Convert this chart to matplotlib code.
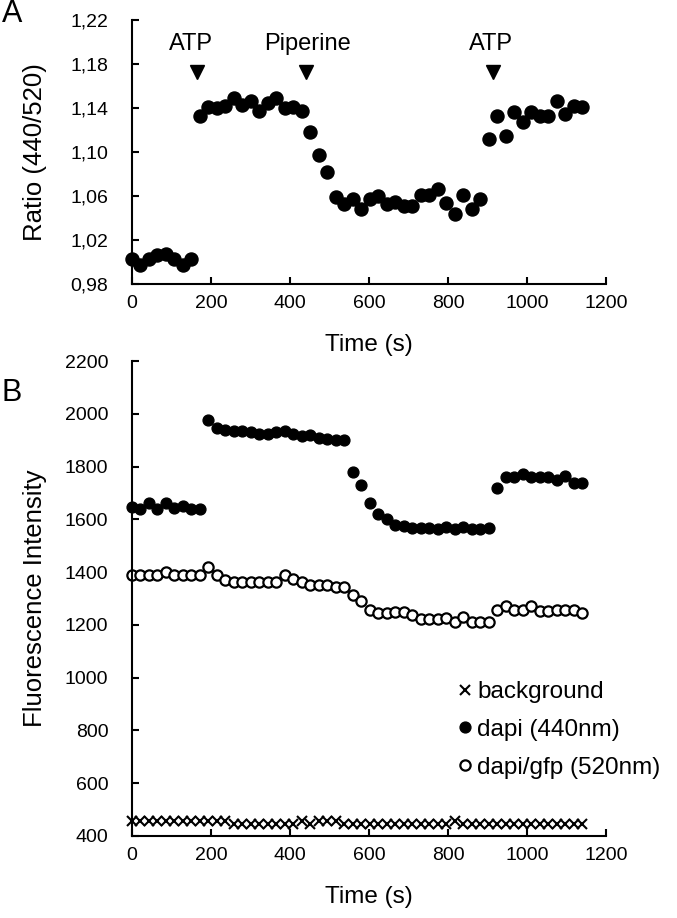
import numpy as np
import matplotlib.pyplot as plt

plt.rcParams['font.family'] = ['Liberation Sans', 'DejaVu Sans']

# time points (s), one frame about every 21.5 s
t = np.arange(54) * 21.5

# panel A: ratio 440/520
ratio = [1.003, 0.997, 1.003, 1.006, 1.007, 1.003, 0.997, 1.003,
         1.133, 1.141, 1.140, 1.142, 1.149, 1.143, 1.146, 1.137, 1.145,
         1.149, 1.140, 1.141, 1.137,
         1.118, 1.097, 1.082,
         1.059, 1.053, 1.057, 1.048, 1.057, 1.060, 1.053, 1.055, 1.051,
         1.051, 1.061, 1.061, 1.066, 1.054, 1.044, 1.061, 1.048, 1.057,
         1.112, 1.133, 1.115, 1.136, 1.127, 1.136, 1.133, 1.133, 1.146,
         1.135, 1.142, 1.141]

# panel B: fluorescence intensity
dapi = [1648, 1640, 1662, 1640, 1662, 1642, 1652, 1640, 1640,
        1975, 1945, 1938, 1935, 1935, 1930, 1925, 1925, 1930, 1935,
        1925, 1915, 1920, 1910, 1905, 1900, 1900,
        1781, 1729, 1662, 1621, 1600, 1579, 1575, 1569, 1569, 1569,
        1562, 1571, 1562, 1571, 1562, 1562, 1569,
        1719, 1762, 1762, 1771, 1759, 1759, 1759, 1750, 1766, 1737, 1737]

gfp = [1388, 1388, 1388, 1388, 1400, 1388, 1388, 1388, 1388,
       1419, 1388, 1371, 1362, 1362, 1362, 1362, 1362, 1362,
       1390, 1375, 1362, 1350, 1350, 1350,
       1344, 1344, 1312, 1291, 1256, 1246, 1246, 1250, 1250, 1237,
       1221, 1221, 1221, 1225, 1212, 1231, 1212, 1212, 1212,
       1256, 1271, 1256, 1256, 1271, 1254, 1254, 1256, 1256, 1256, 1246]

background = [455, 455, 455, 455, 455, 455, 455, 455, 455, 455, 455, 455,
              445, 445, 445, 445, 445, 445, 445, 445, 455, 445, 455, 455,
              455, 445, 445, 445, 445, 445, 445, 445, 445, 445, 445, 445,
              445, 445, 455, 445, 445, 445, 445, 445, 445, 445, 445, 445,
              445, 445, 445, 445, 445, 445]

# treatments: arrow time and label time
events = ['ATP', 'Piperine', 'ATP']
event_t = [165, 440, 915]
label_t = [150, 445, 908]

W, H = 677, 918
fig = plt.figure(figsize=(W / 100, H / 100), dpi=100)
axA = fig.add_axes([132 / W, 1 - 284 / H, 474 / W, 264 / H])
axB = fig.add_axes([132 / W, 1 - 836 / H, 474 / W, 475 / H])

for ax in (axA, axB):
    ax.spines['top'].set_visible(False)
    ax.spines['right'].set_visible(False)
    for s in ('left', 'bottom'):
        ax.spines[s].set_linewidth(1.5)
    ax.tick_params(direction='in', length=5, width=1.5, labelsize=14)
    ax.tick_params(axis='y', pad=17)
    ax.tick_params(axis='x', pad=8)
    ax.set_xlim(0, 1200)
    ax.set_xticks(range(0, 1201, 200))
    ax.set_xlabel('Time (s)', fontsize=17.5, labelpad=16)
    ax.yaxis.set_label_coords(-0.179, 0.5)

# A
axA.plot(t, ratio, 'o', color='black', ms=9.4, clip_on=False)
axA.set_ylim(0.98, 1.22)
yt = np.arange(0.98, 1.221, 0.04)
axA.set_yticks(yt)
axA.set_yticklabels([f'{v:.2f}'.replace('.', ',') for v in yt])
axA.set_ylabel('Ratio (440/520)', fontsize=18.5)
axA.plot(event_t, [1.173] * 3, 'v', color='black', ms=10, clip_on=False)
for name, x in zip(events, label_t):
    axA.text(x, 1.198, name, ha='center', va='center', fontsize=17)

# B
axB.plot(t, background, 'x', color='black', ms=6.5, mew=1.5, clip_on=False,
         label='background')
axB.plot(t, dapi, 'o', color='black', ms=7.8, clip_on=False,
         label='dapi (440nm)')
axB.plot(t, gfp, 'o', mfc='white', mec='black', mew=1.6, ms=7.4,
         clip_on=False, label='dapi/gfp (520nm)')
axB.set_ylim(400, 2200)
axB.set_yticks(range(400, 2201, 200))
axB.set_ylabel('Fluorescence Intensity', fontsize=18.5)
axB.legend(loc='upper left', bbox_to_anchor=(458 / W, 1 - 681 / H),
           bbox_transform=fig.transFigure, frameon=False,
           fontsize=17.5, handlelength=0.6, handletextpad=0.18,
           labelspacing=0.65, borderpad=0, borderaxespad=0)

fig.text(2 / W, 1 - 14 / H, 'A', fontsize=22, va='center')
fig.text(2 / W, 1 - 393 / H, 'B', fontsize=22, va='center')

fig.savefig('out.png', dpi=100)
